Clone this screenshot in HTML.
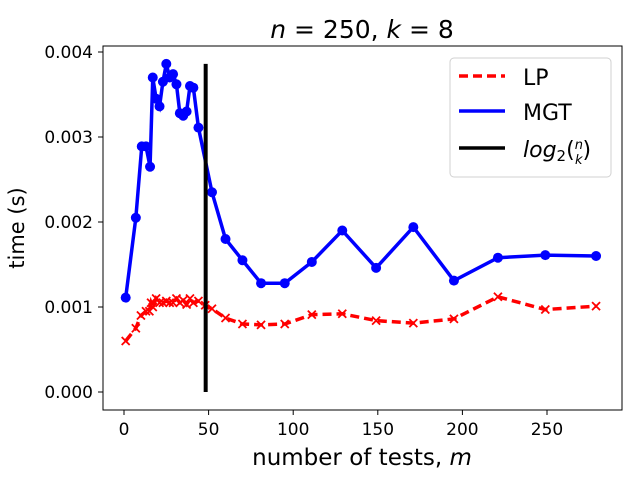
<!DOCTYPE html>
<html><head><meta charset="utf-8"><style>
body{margin:0;background:#fff;}
svg text{font-family:"DejaVu Sans","Liberation Sans",sans-serif;}
</style></head><body>
<svg id="chart" width="640" height="480" xmlns="http://www.w3.org/2000/svg">
<rect x="0" y="0" width="640" height="480" fill="#fff"/>
<g id="plot"></g>
<rect x="103" y="46" width="519" height="364" fill="none" stroke="#000" stroke-width="1"/>
<g id="axes"></g>
<text x="362" y="38" font-size="25" text-anchor="middle"><tspan font-style="italic">n</tspan> = 250, <tspan font-style="italic">k</tspan> = 8</text>
<text x="362" y="465" font-size="23" text-anchor="middle">number of tests, <tspan font-style="italic">m</tspan></text>
<text transform="translate(24,228) rotate(-90)" font-size="21" text-anchor="middle">time (s)</text>
<g>
<rect x="450" y="58" width="161" height="119" rx="4" fill="#fff" stroke="#ccc" stroke-width="1" opacity="0.9"/>
<line x1="459" y1="76" x2="505" y2="76" stroke="red" stroke-width="3.5" stroke-dasharray="9,5"/>
<text x="523" y="85" font-size="22">LP</text>
<line x1="459" y1="111" x2="505" y2="111" stroke="blue" stroke-width="3.5"/>
<text x="523" y="120" font-size="22">MGT</text>
<line x1="459" y1="148" x2="505" y2="148" stroke="#000" stroke-width="3.5"/>
<text x="523" y="157" font-size="22" font-style="italic">log<tspan font-size="15" dy="4" font-style="normal">2</tspan><tspan dy="-4" font-style="normal">(</tspan><tspan font-size="13" dy="-8">n</tspan><tspan font-size="13" dx="-8" dy="15">k</tspan><tspan dy="-7" font-style="normal">)</tspan></text>
</g>
</svg>
<script>
const mgtX=[1,7,10.5,13,15.4,17,19,21,23,25,27,29,31,33,35,37,39,41,44,52,60,70,81,95,111,129,149,171,195,221,249,279];
const mgtY=[0.00111,0.00205,0.00289,0.00289,0.00265,0.0037,0.00345,0.00336,0.00365,0.00386,0.0037,0.00374,0.00362,0.00328,0.00325,0.0033,0.0036,0.00358,0.00311,0.00235,0.0018,0.00155,0.00128,0.00128,0.00153,0.0019,0.00146,0.00194,0.00131,0.00158,0.00161,0.0016];
const lpX=[1,7,10,13,15,16,17,19,21,23,25,27,29,31,33,35,37,39,41,44,48,52,60,70,81,95,111,129,149,171,195,221,249,279];
const lpY=[0.0006,0.00075,0.0009,0.00095,0.00095,0.00105,0.001,0.0011,0.00105,0.00105,0.00107,0.00105,0.00105,0.0011,0.00105,0.00108,0.00103,0.0011,0.00105,0.00107,0.00102,0.00098,0.00087,0.0008,0.00079,0.0008,0.00091,0.00092,0.00084,0.00081,0.00086,0.00112,0.00097,0.00101];
const logX=48.27;
const logYRange=[0,0.00386];
const xTicks=[0,50,100,150,200,250];
const yTicks=[0,0.001,0.002,0.003,0.004];
const yTickLabels=["0.000","0.001","0.002","0.003","0.004"];
const sx=v=>124+v*(423/250);
const sy=v=>392-v*85000;
const NS="http://www.w3.org/2000/svg";
const plot=document.getElementById('plot'),axes=document.getElementById('axes');
function mk(tag,attrs,parent){const e=document.createElementNS(NS,tag);for(const k in attrs)e.setAttribute(k,attrs[k]);parent.appendChild(e);return e;}
xTicks.forEach(t=>{
 const l=mk('line',{x1:sx(t),x2:sx(t),y1:410,y2:415,stroke:'#000'},axes);
 
 
 const tx=mk('text',{x:sx(t),y:435,'font-size':17,'text-anchor':'middle'},axes);tx.textContent=t;
 
 
});
yTicks.forEach((t,i)=>{
 const l=mk('line',{x1:98,x2:103,y1:sy(t),y2:sy(t),stroke:'#000'},axes);
 
 
 const tx=mk('text',{x:93,y:sy(t)+6,'font-size':17,'text-anchor':'end'},axes);tx.textContent=yTickLabels[i];
 
 
});
const lp=mk('polyline',{points:lpX.map((x,i)=>sx(x)+','+sy(lpY[i])).join(' '),fill:'none',stroke:'red','stroke-width':3.5,'stroke-dasharray':'9,5'},plot);


lpX.forEach((x,i)=>{const cx=sx(x),cy=sy(lpY[i]);
 const m=mk('path',{d:`M${cx-4},${cy-4}L${cx+4},${cy+4}M${cx-4},${cy+4}L${cx+4},${cy-4}`,stroke:'red','stroke-width':1.8},plot);
 
 
});
const mg=mk('polyline',{points:mgtX.map((x,i)=>sx(x)+','+sy(mgtY[i])).join(' '),fill:'none',stroke:'blue','stroke-width':3.5},plot);


mgtX.forEach((x,i)=>{
 const c=mk('circle',{cx:sx(x),cy:sy(mgtY[i]),r:5,fill:'blue'},plot);
 
 
});
const lg=mk('line',{x1:sx(logX),x2:sx(logX),y1:sy(logYRange[0]),y2:sy(logYRange[1]),stroke:'#000','stroke-width':4},plot);


</script>
</body></html>
